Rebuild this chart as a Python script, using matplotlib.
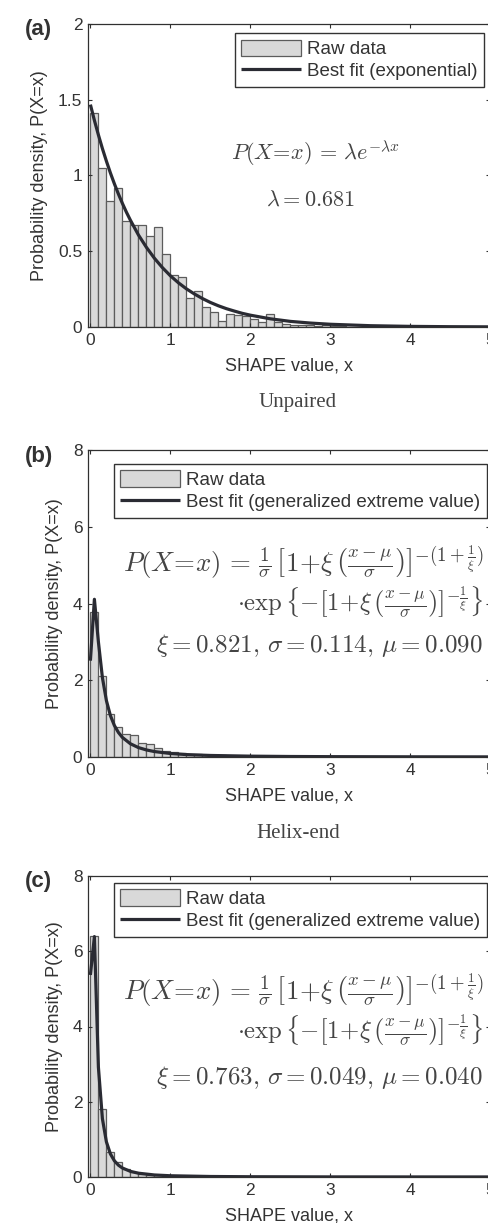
import numpy as np
import matplotlib
matplotlib.use("Agg")
import matplotlib.pyplot as plt

plt.rcParams['font.family'] = ['Liberation Sans', 'DejaVu Sans']
plt.rcParams['mathtext.fontset'] = 'cm'

# histogram heights, bins of width 0.1 starting at 0
bin_width = 0.1
hist_a = [1.41, 1.05, 0.83, 0.92, 0.70, 0.67, 0.67, 0.60, 0.66, 0.48,
          0.34, 0.33, 0.19, 0.24, 0.135, 0.10, 0.04, 0.085, 0.08, 0.07,
          0.05, 0.03, 0.085, 0.03, 0.02, 0.015, 0.01, 0.01, 0.005, 0.01,
          0.008, 0.004, 0.003, 0.003, 0.002]
hist_b = [3.78, 2.11, 1.12, 0.79, 0.60, 0.58, 0.36, 0.35, 0.24, 0.15,
          0.12, 0.10, 0.08, 0.07, 0.05, 0.05, 0.04, 0.03, 0.03, 0.02,
          0.02, 0.02, 0.015, 0.01, 0.01]
hist_c = [6.41, 1.80, 0.67, 0.39, 0.20, 0.12, 0.08, 0.05, 0.04, 0.03,
          0.02, 0.02, 0.015, 0.01, 0.01]

# best fit curves
fit_a_x = [0, 0.05, 0.1, 0.15, 0.2, 0.25, 0.3, 0.35, 0.4, 0.45, 0.5, 0.6, 0.7, 0.8, 0.9,
           1.0, 1.1, 1.2, 1.3, 1.4, 1.5, 1.6, 1.7, 1.8, 1.9, 2.0, 2.25, 2.5, 2.75, 3.0,
           3.5, 4.0, 4.5, 5.0]
fit_a_y = [1.468, 1.364, 1.268, 1.178, 1.095, 1.017, 0.945, 0.878, 0.816, 0.758, 0.705,
           0.608, 0.526, 0.454, 0.392, 0.338, 0.292, 0.252, 0.218, 0.188, 0.162, 0.140,
           0.121, 0.105, 0.090, 0.078, 0.054, 0.037, 0.026, 0.018, 0.0086, 0.0041,
           0.0020, 0.0010]
fit_b_x = [0, 0.05, 0.1, 0.15, 0.2, 0.25, 0.3, 0.35, 0.4, 0.5, 0.6, 0.7, 0.8, 1.0, 1.2,
           1.5, 2.0, 2.5, 3.0, 4.0, 5.0]
fit_b_y = [2.51, 4.11, 3.00, 2.07, 1.47, 1.08, 0.82, 0.64, 0.51, 0.345, 0.246, 0.184,
           0.142, 0.091, 0.063, 0.040, 0.022, 0.013, 0.009, 0.005, 0.003]
fit_c_x = [0, 0.05, 0.1, 0.15, 0.2, 0.25, 0.3, 0.35, 0.4, 0.5, 0.6, 0.8, 1.0, 1.5, 2.0,
           3.0, 5.0]
fit_c_y = [5.37, 6.39, 2.92, 1.55, 0.935, 0.614, 0.430, 0.315, 0.239, 0.150, 0.101,
           0.054, 0.033, 0.0135, 0.007, 0.0028, 0.001]

fit_labels = ['Best fit (exponential)',
              'Best fit (generalized extreme value)',
              'Best fit (generalized extreme value)']
panel_tags = ['(a)', '(b)', '(c)']
captions = ['Unpaired', 'Helix-end']
params = [r'$\lambda = 0.681$',
          r'$\xi = 0.821,\, \sigma = 0.114,\, \mu = 0.090$',
          r'$\xi = 0.763,\, \sigma = 0.049,\, \mu = 0.040$']
gev_line1 = (r'$P(X\!=\!x)\,=\,\frac{1}{\sigma}\,\left[1\!+\!\xi\,\left(\frac{x-\mu}{\sigma}\right)\right]'
             r'^{-(1+\frac{1}{\xi})}$')
gev_line2 = r'$\cdot\exp\left\{-\left[1\!+\!\xi\,\left(\frac{x-\mu}{\sigma}\right)\right]^{-\frac{1}{\xi}}\right\}$'
exp_line = r'$P(X\!=\!x)\,=\,\lambda e^{-\lambda x}$'

W, H = 488, 1223
fig = plt.figure(figsize=(W / 100, H / 100), dpi=100)

# pixel boxes (top, bottom) of each panel
boxes = [(24, 327), (450, 757), (876, 1177)]
left_px, right_px = 88, 490.4
ylims = [(0, 2), (0, 8), (0, 8)]
yticks = [[0, 0.5, 1, 1.5, 2], [0, 2, 4, 6, 8], [0, 2, 4, 6, 8]]
hists = [hist_a, hist_b, hist_c]
fits = [(fit_a_x, fit_a_y), (fit_b_x, fit_b_y), (fit_c_x, fit_c_y)]
leg_boxes = [(0.984, 0.970), (0.991, 0.955), (0.991, 0.977)]
gev_text_y = [(0.635, 0.505, 0.362), (0.621, 0.488, 0.332)]

bar_face = '#d9d9d9'
bar_edge = '#5c5c5c'
line_col = '#2a2b33'
axis_col = '#303030'
text_col = '#333333'
math_col = '#444444'

for i in range(3):
    top, bot = boxes[i]
    ax = fig.add_axes([left_px / W, 1 - bot / H, (right_px - left_px) / W, (bot - top) / H])
    h = hists[i]
    xs = np.arange(len(h)) * bin_width
    bars = ax.bar(xs, h, width=bin_width, align='edge', color=bar_face, edgecolor=bar_edge,
                  linewidth=0.9, label='Raw data')
    fx, fy = fits[i]
    line, = ax.plot(fx, fy, color=line_col, lw=2.3, label=fit_labels[i],
                    solid_capstyle='butt')

    ax.set_xlim(-0.03, 5)
    ax.set_ylim(*ylims[i])
    ax.set_xticks([0, 1, 2, 3, 4, 5])
    ax.set_yticks(yticks[i])
    ax.set_yticklabels([('%g' % v) for v in yticks[i]])
    ax.tick_params(direction='in', top=True, right=True, length=3, width=0.8,
                   colors=axis_col, labelsize=12.5, labelcolor=text_col, pad=4)
    for s in ax.spines.values():
        s.set_color(axis_col)
        s.set_linewidth(0.9)

    ax.set_xlabel('SHAPE value, x', fontsize=13, color=text_col)
    ax.xaxis.set_label_coords(0.5, -0.10)
    ax.set_ylabel('Probability density, P(X=x)', fontsize=13, color=text_col, labelpad=7)

    leg = ax.legend([bars, line], ['Raw data', fit_labels[i]], loc='upper right',
                    bbox_to_anchor=leg_boxes[i], fontsize=13.5,
                    frameon=True, fancybox=False, edgecolor=text_col, framealpha=1,
                    handlelength=3.2, handleheight=0.95, handletextpad=0.3,
                    borderpad=0.35, labelspacing=0.2, borderaxespad=0)
    leg.get_frame().set_linewidth(1.0)
    for t in leg.get_texts():
        t.set_color(text_col)

    fig.text(25 / W, 1 - (top + 6) / H, panel_tags[i], fontsize=16, fontweight='bold',
             color=text_col, ha='left', va='center')

    if i == 0:
        ax.text(0.564, 0.574, exp_line, transform=ax.transAxes, fontsize=16,
                ha='center', va='center', color=math_col)
        ax.text(0.552, 0.419, params[0], transform=ax.transAxes, fontsize=16,
                ha='center', va='center', color=math_col)
    else:
        ys = gev_text_y[i - 1]
        ax.text(0.982, ys[0], gev_line1, transform=ax.transAxes, fontsize=19.3,
                ha='right', va='center', color=math_col)
        ax.text(0.982, ys[1], gev_line2, transform=ax.transAxes, fontsize=17.8,
                ha='right', va='center', color=math_col)
        ax.text(0.98, ys[2], params[i], transform=ax.transAxes, fontsize=18,
                ha='right', va='center', color=math_col)

    if i < 2:
        fig.text(298 / W, 1 - (bot + 76) / H, captions[i], fontsize=15,
                 family='Liberation Serif', color=math_col, ha='center', va='center')

fig.savefig('out.png', dpi=100)
